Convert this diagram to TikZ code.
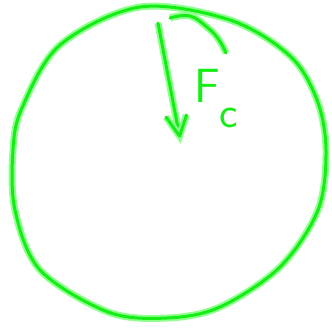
\documentclass[tikz,border=0pt]{standalone}
\usetikzlibrary{calc}
\definecolor{penstroke}{HTML}{14EE14}
\definecolor{penglow}{HTML}{90FF90}

\begin{document}
\begin{tikzpicture}[
    x=1pt, y=-1pt,
    pen/.style={
        draw=penstroke, line width=3pt, line cap=round, line join=round,
        preaction={draw=penglow, line width=7pt}
    },
    label/.style={
        font=\sffamily\fontsize{48}{48}\selectfont, text=penstroke,
        anchor=base west, inner sep=0pt
    }
]
\useasboundingbox (0,0) rectangle (332,327);

% Circle (hand drawn)
\draw[pen] plot[smooth cycle, tension=0.55] coordinates {
    (140,7) (230,20) (290,56) (317,100) (326,150) (318,210)
    (280,267) (220,307) (167,318) (108,312) (40,270) (15,210)
    (13,150) (22,108) (60,45)};

% Force arrow pointing to the centre
\coordinate (top) at (158,23);
\coordinate (tip) at (179.5,136);
\coordinate (armL) at (166,117);
\coordinate (armR) at (186.5,115);
\draw[pen] (top) -- (tip);
\draw[pen] (armL) -- (tip) -- (armR);

% Hook stroke from the rim
\draw[pen] plot[smooth, tension=0.7] coordinates {
    (170,18) (190,16) (208,28) (219,40) (226,53)};

% Label F_c
\node[label] (fc) at (194,102)
    {F\raisebox{-25pt}{\fontsize{44}{44}\selectfont c}};

\end{tikzpicture}
\end{document}
